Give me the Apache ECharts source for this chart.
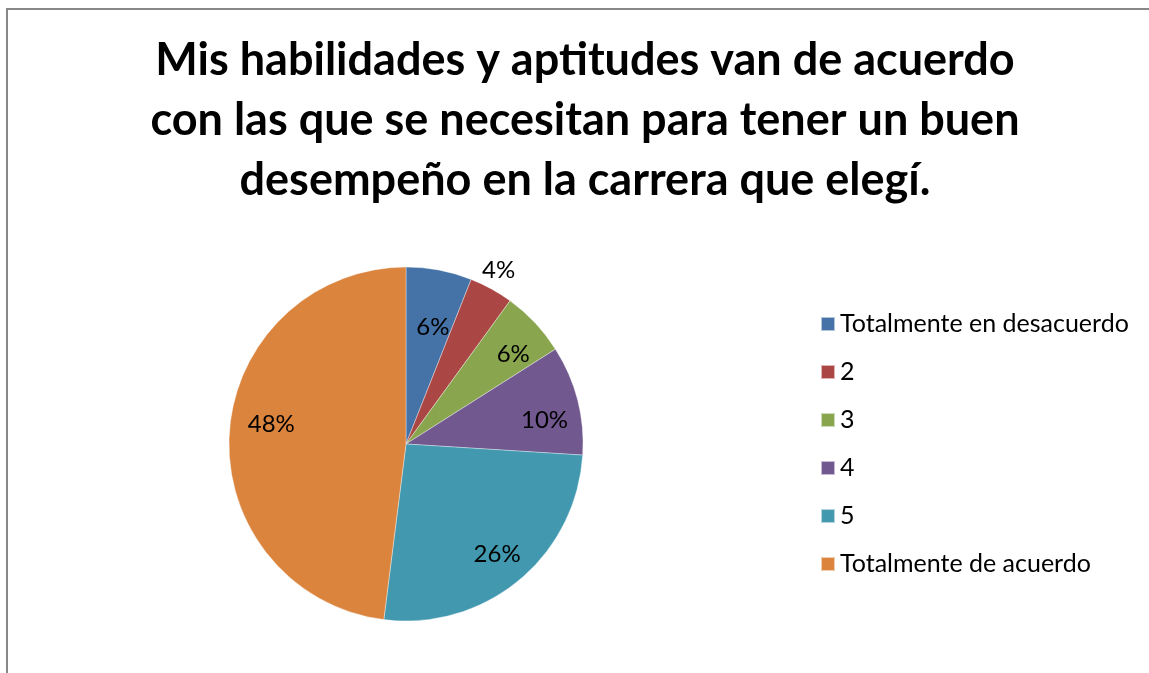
<!DOCTYPE html>
<html>
<head>
<meta charset="utf-8">
<script src="https://cdn.jsdelivr.net/npm/echarts@6/dist/echarts.min.js"></script>
<style>
  html, body { margin: 0; padding: 0; background: #fff; }
  #frame { position: absolute; left: 6px; top: 8px; width: 1143px; height: 665px;
           border-top: 2px solid #888; border-left: 2px solid #888; box-sizing: border-box; }
  #pie { position: absolute; left: 0; top: 0; width: 1149px; height: 673px; }
</style>
</head>
<body>
<div id="frame"></div>
<div id="pie"></div>
<script>
// datos de la encuesta
var categories = ['Totalmente en desacuerdo', '2', '3', '4', '5', 'Totalmente de acuerdo'];
var values = [6, 4, 6, 10, 26, 48];
var colors = ['#4572A7', '#AA4643', '#89A54E', '#71588F', '#4198AF', '#DB843D'];
var titleText = 'Mis habilidades y aptitudes van de acuerdo\ncon las que se necesitan para tener un buen\ndesempeño en la carrera que elegí.';

var font = 'Lato';
var myChart = echarts.init(document.getElementById('pie'));

var pieData = categories.map(function (c, i) {
  return { name: c, value: values[i], itemStyle: { color: colors[i] } };
});

// serie transparente solo para colocar las etiquetas (como las pone Excel)
var labelOffsets = [[0, 24], [-18, -12], [3, 8], [0, 12], [0, 0], [8, -11]];
var labelData = categories.map(function (c, i) {
  var d = { name: c, value: values[i], label: { offset: labelOffsets[i] } };
  if (i === 1) d.label.position = 'outside';
  return d;
});

var option = {
  animation: false,
  title: {
    text: titleText,
    left: 580,
    top: 25,
    textAlign: 'center',
    textStyle: { fontFamily: font, fontWeight: 'bold', fontSize: 45, lineHeight: 60, color: '#000' }
  },
  legend: {
    orient: 'vertical',
    left: 815,
    top: 306,
    itemWidth: 14,
    itemHeight: 14,
    itemGap: 22,
    icon: 'rect',
    data: categories,
    textStyle: { fontFamily: font, fontSize: 25, color: '#000', lineHeight: 26 }
  },
  series: [
    {
      type: 'pie',
      center: [406, 444],
      radius: [0, 177],
      startAngle: 90,
      clockwise: true,
      silent: true,
      label: { show: false },
      labelLine: { show: false },
      itemStyle: { borderColor: 'rgba(255,255,255,0.6)', borderWidth: 0.6 },
      data: pieData
    },
    {
      type: 'pie',
      center: [406, 444],
      radius: [103, 177],
      startAngle: 90,
      clockwise: true,
      silent: true,
      legendHoverLink: false,
      itemStyle: { color: 'rgba(0,0,0,0)' },
      label: {
        show: true,
        position: 'inside',
        formatter: '{c}%',
        fontFamily: font,
        fontSize: 24,
        color: '#000'
      },
      labelLine: { show: false, length: 8, length2: 0 },
      data: labelData
    }
  ]
};
myChart.setOption(option);
</script>
</body>
</html>
